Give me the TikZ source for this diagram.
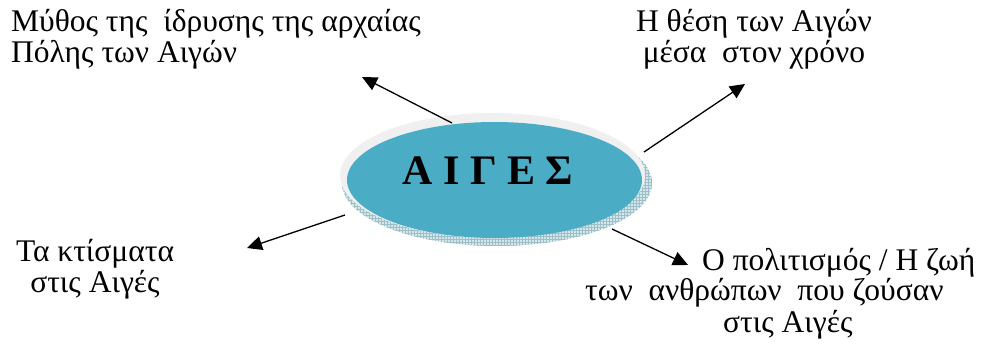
\documentclass[tikz,border=0pt]{standalone}
\usepackage{fontspec}
\setmainfont{Liberation Serif}
\usetikzlibrary{arrows.meta,patterns}
\definecolor{teal1}{HTML}{4BACC6}
\definecolor{ring}{HTML}{F0F0F0}
\definecolor{side}{HTML}{D5E6EA}
\definecolor{sidehatch}{HTML}{9CBFC8}
\begin{document}
\begin{tikzpicture}[x=1pt,y=-1pt,
  lbl/.style={font=\fontsize{31.5}{31}\selectfont, inner sep=0pt},
  conn/.style={line width=1.3pt, -{Triangle[length=15pt,width=14pt]}}]
\useasboundingbox (0,0) rectangle (983,350);
% disk
\fill[side] (497,183) ellipse[x radius=155, y radius=63];
\fill[pattern=grid, pattern color=sidehatch] (497,183) ellipse[x radius=155, y radius=63];
\fill[ring] (492.5,175.5) ellipse[x radius=152.5, y radius=62.5];
\fill[teal1] (494.5,180) ellipse[x radius=147.5, y radius=58];
\node[font=\fontsize{42}{48}\selectfont\bfseries, inner sep=0pt, anchor=base] (c) at (488,185) {Α Ι Γ Ε Σ};
% labels
\node[lbl, anchor=base west, align=left] (t1) at (11,63) {Μύθος της\ \ ίδρυσης της αρχαίας\\Πόλης των Αιγών};
\node[lbl, anchor=base, align=center] (t2) at (754,63) {Η θέση των Αιγών\\μέσα\ \ στον χρόνο};
\node[lbl, anchor=base, align=center] (t3) at (95,292) {Τα κτίσματα\\στις Αιγές};
\node[lbl, anchor=base west] (t4a) at (702,270) {Ο πολιτισμός / Η ζωή};
\node[lbl, anchor=base west] (t4b) at (585,300) {των\ \ ανθρώπων\ \ που ζούσαν};
\node[lbl, anchor=base west] (t4c) at (723,332) {στις Αιγές};
% connectors
\coordinate (s1) at (452,123); \coordinate (e1) at (362,77);
\coordinate (s2) at (644,152); \coordinate (e2) at (745,84);
\coordinate (s3) at (345,215); \coordinate (e3) at (247,248);
\coordinate (s4) at (612,229); \coordinate (e4) at (688,265);
\draw[conn] (s1) -- (e1);
\draw[conn] (s2) -- (e2);
\draw[conn] (s3) -- (e3);
\draw[conn] (s4) -- (e4);
\end{tikzpicture}
\end{document}
